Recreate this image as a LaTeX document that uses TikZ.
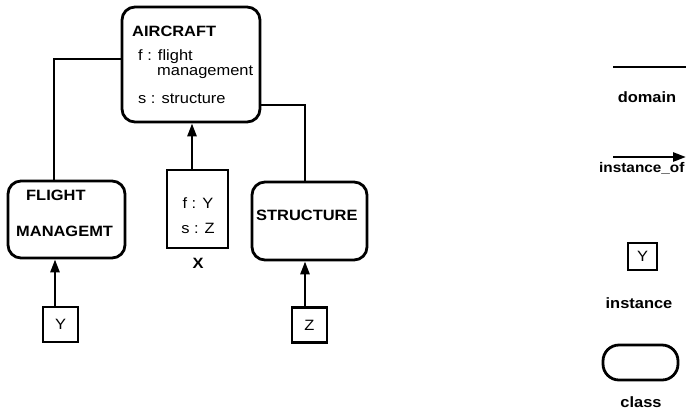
\documentclass[tikz,border=0pt]{standalone}
\usepackage{fontspec}
\setmainfont{Liberation Sans}[FakeStretch=1.1]
\usetikzlibrary{arrows.meta}
\tikzset{
  cls/.style={draw, rounded corners=13bp, line width=2.8bp, inner sep=0pt},
  inst/.style={draw, line width=2.8bp, inner sep=0pt},
  conn/.style={line width=2.4bp},
  isa/.style={line width=2.6bp, -{Triangle[length=13bp,width=9bp]}},
  bl/.style={font=\fontsize{15}{18}\selectfont\bfseries, inner sep=0pt},
  rl/.style={font=\fontsize{15}{18}\selectfont, inner sep=0pt},
}
\begin{document}
\begin{tikzpicture}[x=1bp,y=-1bp]
\path[use as bounding box] (0,0) rectangle (686,409);

% classes
\node[cls, minimum width=138bp, minimum height=115bp] (aircraft) at (191,64.5) {};
\node[cls, minimum width=117bp, minimum height=77bp] (flight) at (66.5,219.5) {};
\node[cls, minimum width=115bp, minimum height=78bp] (structure) at (309.5,221) {};
% instances
\node[inst, minimum width=61bp, minimum height=78bp] (xbox) at (197.5,209) {};
\node[inst, minimum width=35bp, minimum height=35bp, rl] (ybox) at (60.5,324.5) {Y};
\node[inst, minimum width=35bp, minimum height=35bp, rl] (zbox) at (309.5,325) {Z};

% texts
\node[bl, anchor=base west] (tair) at (132,36) {AIRCRAFT};
\node[rl, anchor=base west] (tf) at (138,60) {f : flight};
\node[rl, anchor=base west] (tm) at (157,75.5) {management};
\node[rl, anchor=base west] (ts) at (138,103) {s : structure};
\node[bl, anchor=base west] (tfl) at (26,200) {FLIGHT};
\node[bl, anchor=base west] (tma) at (16,236) {MANAGEMT};
\node[bl, anchor=base west] (tst) at (256,220) {STRUCTURE};
\node[rl, anchor=base] (tfy) at (198,208) {f : Y};
\node[rl, anchor=base] (tsz) at (198,233) {s : Z};
\node[bl, anchor=base] (tx) at (198,268) {X};

% connectors
\coordinate (c1) at (123,59);
\coordinate (c1x) at (54,0);
\draw[conn] (c1) -| (flight.north -| c1x);
\coordinate (c2) at (259,105);
\coordinate (c2x) at (305,0);
\draw[conn] (c2) -| (structure.north -| c2x);
\coordinate (ax) at (192,0);
\draw[isa] (xbox.north -| ax) -- (aircraft.south -| ax);
\coordinate (fx) at (55,0);
\draw[isa] (ybox.north -| fx) -- (flight.south -| fx);
\draw[isa] (zbox.north -| c2x) -- (structure.south -| c2x);

% legend
\coordinate (d1) at (613,67);
\coordinate (d2) at (686,67);
\draw[conn] (d1) -- (d2);
\node[bl, anchor=base] (tdom) at (647,102) {domain};
\coordinate (i1) at (613,157);
\coordinate (i2) at (686,157);
\draw[isa] (i1) -- (i2);
\node[bl, anchor=base west, font=\fontsize{14}{17}\selectfont\bfseries] (tio) at (599,172) {instance\_of};
\node[inst, minimum width=29bp, minimum height=27bp, rl] (ly) at (642.5,256.5) {Y};
\node[bl, anchor=base] (tinst) at (639,308) {instance};
\node[cls, rounded corners=16bp, minimum width=75bp, minimum height=35bp] (lc) at (640.5,362.5) {};
\node[bl, anchor=base] (tcls) at (641,407) {class};
\end{tikzpicture}
\end{document}
